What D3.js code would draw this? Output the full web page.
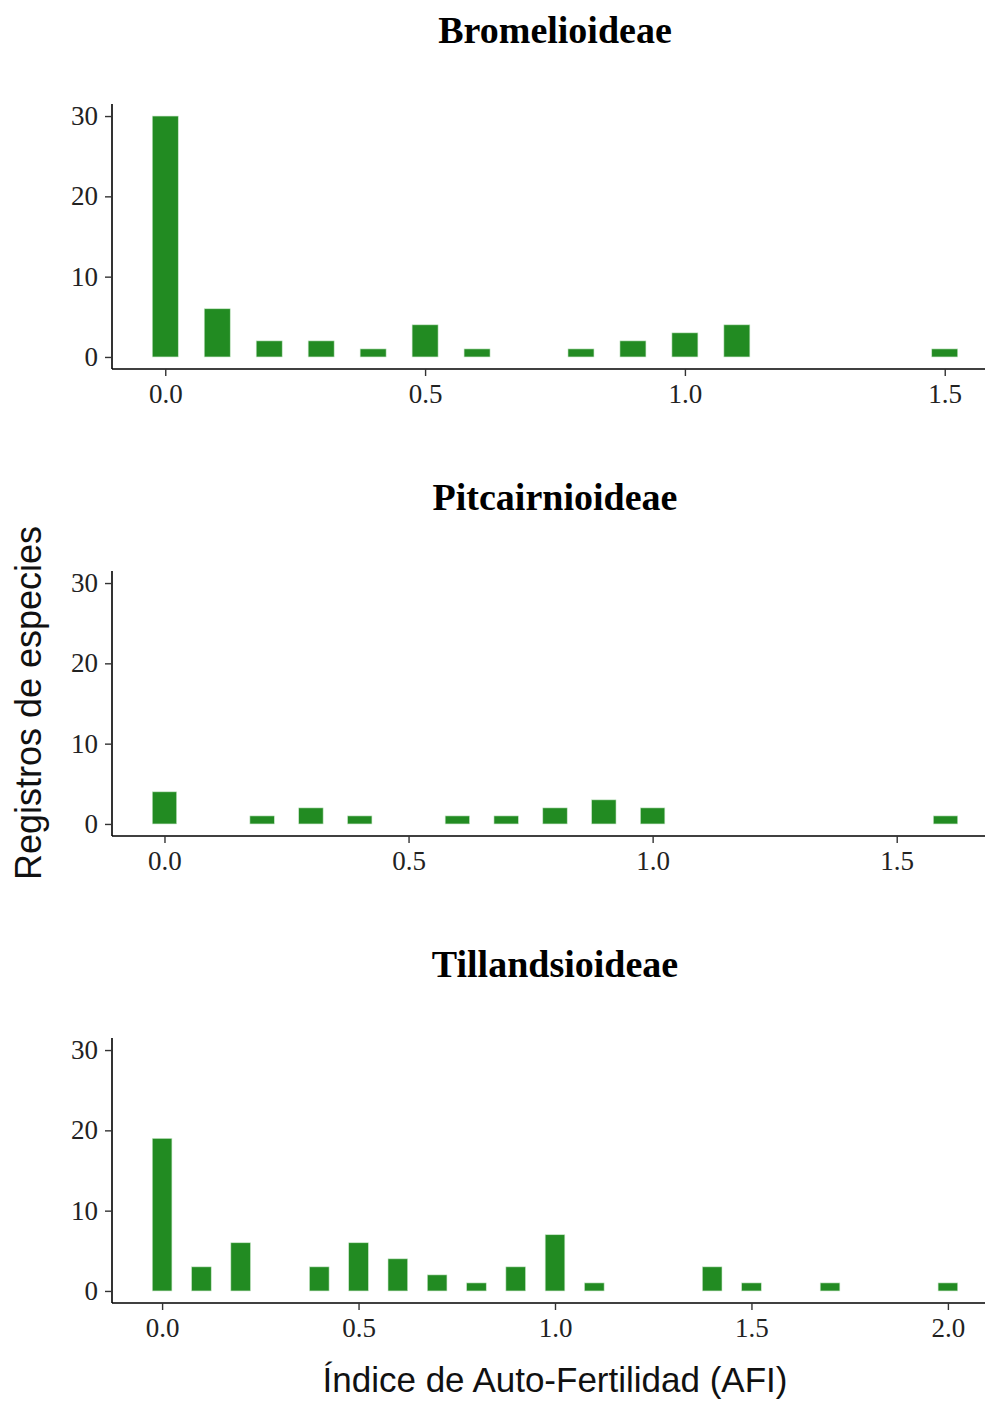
<!DOCTYPE html>
<html>
<head>
<meta charset="utf-8">
<script src="https://cdn.jsdelivr.net/npm/d3@7"></script>
<style>
  html, body { margin: 0; padding: 0; background: #fff; }
  svg { display: block; }
</style>
</head>
<body>
<svg id="chart" width="985" height="1402"></svg>
<script>
// ---- Data ----
const panels = ["Bromelioideae", "Pitcairnioideae", "Tillandsioideae"];

const bromAFI    = [0.0, 0.1, 0.2, 0.3, 0.4, 0.5, 0.6, 0.8, 0.9, 1.0, 1.1, 1.5];
const bromCount  = [30,  6,   2,   2,   1,   4,   1,   1,   2,   3,   4,   1];

const pitcAFI    = [0.0, 0.2, 0.3, 0.4, 0.6, 0.7, 0.8, 0.9, 1.0, 1.6];
const pitcCount  = [4,   1,   2,   1,   1,   1,   2,   3,   2,   1];

const tillAFI    = [0.0, 0.1, 0.2, 0.4, 0.5, 0.6, 0.7, 0.8, 0.9, 1.0, 1.1, 1.4, 1.5, 1.7, 2.0];
const tillCount  = [19,  3,   6,   3,   6,   4,   2,   1,   3,   7,   1,   3,   1,   1,   1];

const bromXTicks = [0.0, 0.5, 1.0, 1.5];
const pitcXTicks = [0.0, 0.5, 1.0, 1.5];
const tillXTicks = [0.0, 0.5, 1.0, 1.5, 2.0];
const yTicks = [0, 10, 20, 30];

const xLabel = "Índice de Auto-Fertilidad (AFI)";
const yLabel = "Registros de especies";

// ---- Layout ----
const barW = 0.05;
const plotLeft = 112, plotRight = 998;
const panelTops = [104, 571, 1038];
const panelH = 265;
const fill = "#228B22";

const svg = d3.select("#chart");

const series = [
  {name: panels[0], x: bromAFI, y: bromCount, ticks: bromXTicks},
  {name: panels[1], x: pitcAFI, y: pitcCount, ticks: pitcXTicks},
  {name: panels[2], x: tillAFI, y: tillCount, ticks: tillXTicks}
];

const yMax = 30;
series.forEach((s, i) => {
  const top = panelTops[i];
  const bottom = top + panelH;
  const lo = d3.min(s.x) - barW / 2, hi = d3.max(s.x) + barW / 2;
  const pad = (hi - lo) * 0.05;
  const x = d3.scaleLinear().domain([lo - pad, hi + pad]).range([plotLeft, plotRight]);
  const y = d3.scaleLinear().domain([-yMax * 0.05, yMax * 1.05]).range([bottom, top]);

  const g = svg.append("g");

  // title
  g.append("text")
    .attr("x", (plotLeft + plotRight) / 2)
    .attr("y", top - 61)
    .attr("text-anchor", "middle")
    .style("font-family", "'Liberation Serif', 'Times New Roman', serif")
    .style("font-weight", "bold")
    .style("font-size", "38px")
    .text(s.name);

  // bars
  const data = s.x.map((v, k) => ({x: v, c: s.y[k]}));
  g.selectAll("rect.bar").data(data).enter().append("rect")
    .attr("class", "bar")
    .attr("x", d => x(d.x - barW / 2))
    .attr("width", d => x(d.x + barW / 2) - x(d.x - barW / 2))
    .attr("y", d => y(d.c))
    .attr("height", d => y(0) - y(d.c))
    .attr("fill", fill)
    .attr("stroke", "#c8e6c8")
    .attr("stroke-width", 0.6);

  // x axis
  const xa = g.append("g")
    .attr("transform", `translate(0,${bottom})`)
    .call(d3.axisBottom(x).tickValues(s.ticks).tickFormat(d3.format(".1f")).tickSizeOuter(0).tickSize(7).tickPadding(8));
  // y axis
  const ya = g.append("g")
    .attr("transform", `translate(${plotLeft},0)`)
    .call(d3.axisLeft(y).tickValues(yTicks).tickFormat(d3.format("d")).tickSizeOuter(0).tickSize(7).tickPadding(7));

  [xa, ya].forEach(a => {
    a.select(".domain").attr("stroke", "#000").attr("stroke-width", 1.6);
    a.selectAll(".tick line").attr("stroke", "#333").attr("stroke-width", 1.4);
    a.selectAll(".tick text")
      .style("font-family", "'Liberation Serif', 'Times New Roman', serif")
      .style("font-size", "27px")
      .attr("fill", "#222");
  });
  xa.select(".domain").attr("d", `M${plotLeft},0H${plotRight}`);
  ya.select(".domain").attr("d", `M0,${panelH}V0`).attr("transform", `translate(0,${top})`);
});

// axis titles
svg.append("text")
  .attr("x", (plotLeft + plotRight) / 2)
  .attr("y", 1392)
  .attr("text-anchor", "middle")
  .style("font-family", "'Liberation Sans', Arial, sans-serif")
  .style("font-size", "35px")
  .attr("fill", "#111")
  .text(xLabel);

svg.append("text")
  .attr("transform", "translate(41,703) rotate(-90)")
  .attr("text-anchor", "middle")
  .style("font-family", "'Liberation Sans', Arial, sans-serif")
  .style("font-size", "36px")
  .attr("fill", "#111")
  .text(yLabel);
</script>
</body>
</html>
